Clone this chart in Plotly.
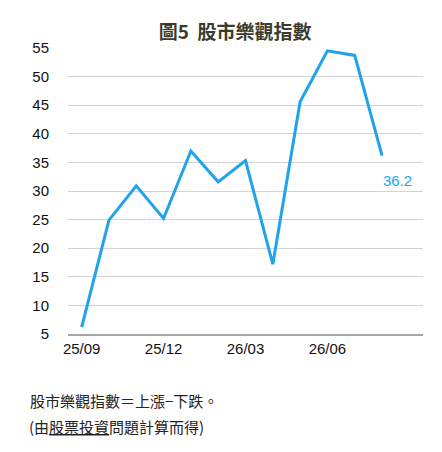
import plotly.graph_objects as go

# monthly index, 25/09 .. 26/08
months = ["25/09", "25/10", "25/11", "25/12", "26/01", "26/02",
          "26/03", "26/04", "26/05", "26/06", "26/07", "26/08"]
index_values = [6.2, 24.9, 30.9, 25.2, 37.0, 31.6, 35.3, 17.2, 45.6, 54.5, 53.7, 36.2]
shown_ticks = ["25/09", "25/12", "26/03", "26/06"]
y_ticks = [5, 10, 15, 20, 25, 30, 35, 40, 45, 50, 55]

blue = "#1fa3ec"
num_font = "Liberation Sans, Arial, sans-serif"
cjk_font = "Noto Sans CJK TC, sans-serif"

x_pos = list(range(len(months)))

fig = go.Figure()
fig.add_trace(go.Scatter(
    x=x_pos, y=index_values, mode="lines",
    line=dict(color=blue, width=3), hoverinfo="skip", showlegend=False))

fig.add_annotation(x=x_pos[-1] + 0.55, y=index_values[-1], yshift=-25,
                   text=f"{index_values[-1]:.1f}", showarrow=False,
                   font=dict(family=num_font, size=15, color=blue))

fig.update_layout(
    width=442, height=452,
    margin=dict(l=60, r=27, t=40, b=126),
    paper_bgcolor="white", plot_bgcolor="white",
    title=dict(text="<b>圖5  股市樂觀指數</b>", x=0.514, xanchor="center",
               y=0.947, yanchor="middle",
               font=dict(family=cjk_font, size=19, color="#3b3b2b")),
    xaxis=dict(range=[-0.5, 12.5], tickvals=[months.index(m) for m in shown_ticks],
               ticktext=shown_ticks, showgrid=False, zeroline=False,
               showline=True, linecolor="#a6a6a6", linewidth=1.5,
               ticks="", tickfont=dict(family=num_font, size=15, color="#111")),
    yaxis=dict(range=[5, 55], tickvals=y_ticks, showgrid=True,
               gridcolor="#d4d4d4", gridwidth=1, zeroline=False,
               ticks="", ticklabelstandoff=18,
               tickfont=dict(family=num_font, size=15, color="#111")),
)

fig.add_annotation(xref="paper", yref="paper", x=-0.113, y=-0.231,
                   xanchor="left", yanchor="middle", showarrow=False,
                   text="股市樂觀指數＝上漲−下跌。",
                   font=dict(family=cjk_font, size=15, color="#222"))
fig.add_annotation(xref="paper", yref="paper", x=-0.115, y=-0.325,
                   xanchor="left", yanchor="middle", showarrow=False,
                   text="(由<u>股票投資</u>問題計算而得)",
                   font=dict(family=cjk_font, size=15, color="#222"))

fig.write_html("out.html")
